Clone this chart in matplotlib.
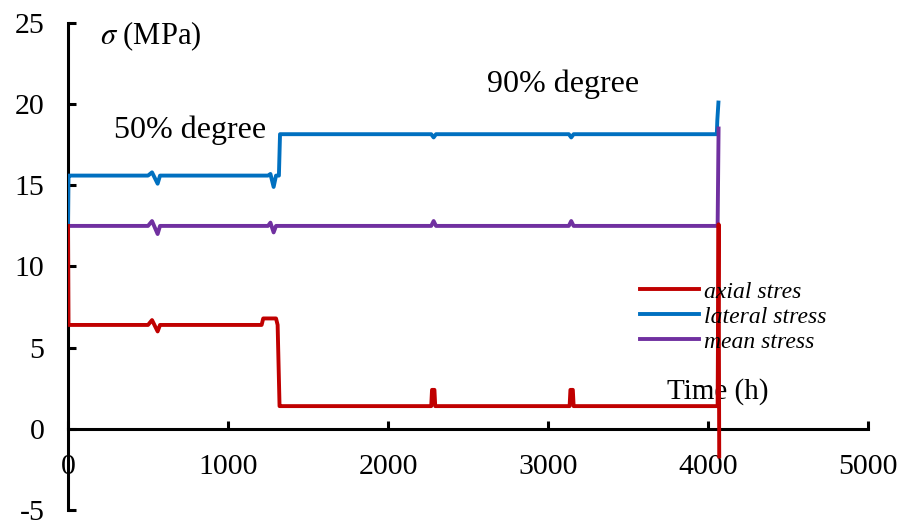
import numpy as np
import matplotlib.pyplot as plt

plt.rcParams.update({
    "font.family": ["Liberation Serif", "DejaVu Serif"],
    "mathtext.fontset": "stix",
    "axes.unicode_minus": False,
})

# axial stress
t_axial = [0, 3, 20, 500, 525, 560, 575, 1210, 1220, 1300, 1310, 1322, 1330,
           2270, 2275, 2290, 2295, 3135, 3140, 3155, 3160, 4060, 4066, 4070]
s_axial = [12.5, 6.4, 6.4, 6.4, 6.7, 6.0, 6.4, 6.4, 6.8, 6.8, 6.4, 1.4, 1.4,
           1.4, 2.4, 2.4, 1.4, 1.4, 2.4, 2.4, 1.4, 1.4, 12.6, -1.7]

# lateral stress
t_lateral = [0, 3, 20, 500, 525, 560, 575, 1250, 1265, 1285, 1300, 1318, 1325,
             2270, 2285, 2300, 3130, 3145, 3160, 4055, 4058, 4065]
s_lateral = [12.5, 15.6, 15.6, 15.6, 15.8, 15.1, 15.6, 15.6, 15.7, 14.9, 15.6, 15.6, 18.15,
             18.15, 17.95, 18.15, 18.15, 17.95, 18.15, 18.15, 19.0, 20.1]

# mean stress
t_mean = [0, 20, 500, 525, 560, 575, 1250, 1265, 1285, 1300, 2270, 2285, 2300,
          3130, 3145, 3160, 4060, 4066]
s_mean = [12.5, 12.5, 12.5, 12.8, 12.0, 12.5, 12.5, 12.7, 12.1, 12.5, 12.5, 12.8, 12.5,
          12.5, 12.8, 12.5, 12.5, 18.5]

xticks = [0, 1000, 2000, 3000, 4000, 5000]
yticks = [-5, 0, 5, 10, 15, 20, 25]

fig = plt.figure(figsize=(9.01, 5.26), dpi=100)
ax = fig.add_axes([0.0755, 0.0304, 0.8879, 0.9259])

ax.plot(t_axial, s_axial, color="#C00000", lw=2.8, label="axial stres", zorder=4)
ax.plot(t_lateral, s_lateral, color="#0070C0", lw=2.8, label="lateral stress", zorder=3)
ax.plot(t_mean, s_mean, color="#7030A0", lw=2.8, label="mean stress", zorder=3)

ax.set_xlim(0, 5000)
ax.set_ylim(-5, 25)
ax.set_xticks(xticks)
ax.set_yticks(yticks)

ax.spines["top"].set_visible(False)
ax.spines["right"].set_visible(False)
ax.spines["bottom"].set_position(("data", 0))
for s in ("left", "bottom"):
    ax.spines[s].set_linewidth(2.2)
ax.tick_params(axis="x", direction="in", length=6, width=2.2, pad=18, labelsize=21.5)
ax.tick_params(axis="y", direction="in", length=6, width=2.2, pad=17, labelsize=21.5)

ax.text(200, 24.2, r"$\sigma$ (MPa)", fontsize=22, va="center", ha="left")
ax.text(287, 18.4, "50% degree", fontsize=23, va="center", ha="left")
ax.text(2619, 21.2, "90% degree", fontsize=23, va="center", ha="left")
ax.text(3744, 2.3, "Time (h)", fontsize=21, va="center", ha="left", zorder=2)

ax.legend(loc="upper left", bbox_to_anchor=(640 / 901, 1 - 281 / 526),
          bbox_transform=fig.transFigure, frameon=False,
          prop={"style": "italic", "size": 17}, handlelength=2.5,
          handletextpad=0.22, labelspacing=0.15, borderpad=0, borderaxespad=0)

fig.savefig("out.png", dpi=100)
